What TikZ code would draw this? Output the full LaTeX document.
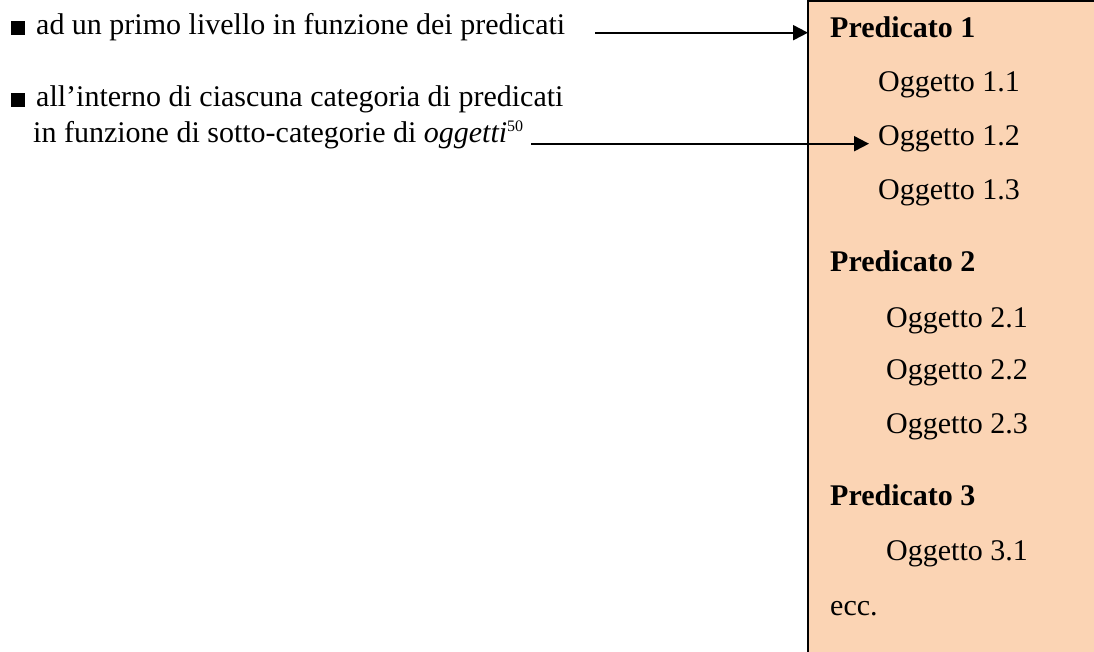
\documentclass[tikz,border=0pt]{standalone}
\usepackage{fontspec}
\setmainfont{Liberation Serif}
\usepackage{tikz}
\usetikzlibrary{arrows.meta,positioning,calc}
\definecolor{pesca}{HTML}{FBD4B4}

\begin{document}
\begin{tikzpicture}[x=1pt,y=-1pt,>={Triangle[length=15pt,width=15pt]},
 voce/.style={anchor=base west,inner sep=0pt,font=\fontsize{30}{36}\selectfont},
 pred/.style={anchor=base west,inner sep=0pt,font=\fontsize{30}{36}\selectfont\bfseries},
 ogg/.style={anchor=base west,inner sep=0pt,font=\fontsize{30}{36}\selectfont},
 freccia/.style={->,line width=2pt,shorten <=15pt}]
\useasboundingbox (0,0) rectangle (1094,652);
% riquadro
\fill[pesca] (808,0) rectangle (1094,652);
\coordinate (bordo) at (808,1);
\draw[line width=2pt] (1094,1) -- (bordo) -- (808,652);
% voci a sinistra
\node[voce] (liv1) at (11,35) {\rule{14pt}{14pt}\hspace{11pt}ad un primo livello in funzione dei predicati};
\node[voce] (liv2) at (11,107) {\rule{14pt}{14pt}\hspace{11pt}all’interno di ciascuna categoria di predicati};
\node[voce] (liv3) at (33,143) {in funzione di sotto-categorie di \textit{oggetti}\raisebox{11pt}{\fontsize{16}{16}\selectfont 50}};
% elenco nel riquadro
\node[pred] (pred1) at (830,38) {Predicato 1};
\node[ogg] (ogg11) at (878,92) {Oggetto 1.1};
\node[ogg] (ogg12) at (878,146) {Oggetto 1.2};
\node[ogg] (ogg13) at (878,200) {Oggetto 1.3};
\node[pred] (pred2) at (830,272) {Predicato 2};
\node[ogg] (ogg21) at (886,327) {Oggetto 2.1};
\node[ogg] (ogg22) at (886,379) {Oggetto 2.2};
\node[ogg] (ogg23) at (886,433) {Oggetto 2.3};
\node[pred] (pred3) at (830,505) {Predicato 3};
\node[ogg] (ogg31) at (886,560) {Oggetto 3.1};
\node[ogg] (ecc) at (830,615) {ecc.};
% frecce
\draw[freccia,shorten <=30pt] (liv1.mid east) -- (liv1.mid east -| bordo);
\draw[freccia,shorten <=8pt,shorten >=9pt] (liv3.east |- ogg12.mid west) -- (ogg12.mid west);
\end{tikzpicture}
\end{document}
